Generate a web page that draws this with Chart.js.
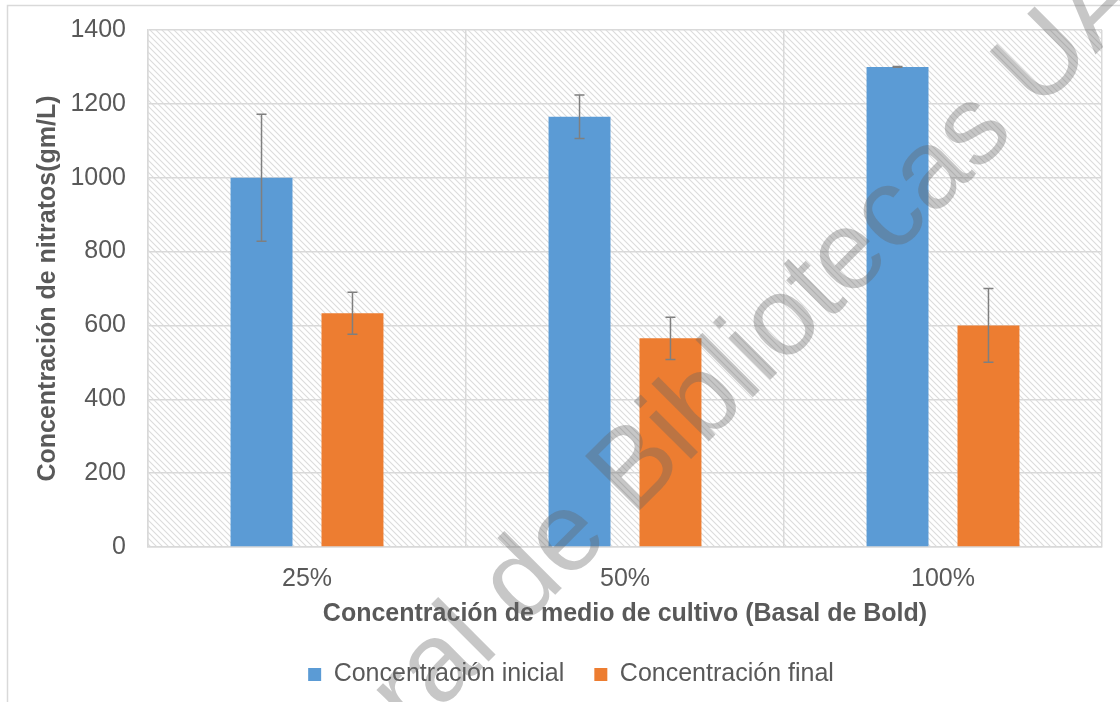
<!DOCTYPE html>
<html>
<head>
<meta charset="utf-8">
<script src="https://cdn.jsdelivr.net/npm/chart.js@4.4.1/dist/chart.umd.min.js"></script>
<style>
  html, body { margin: 0; padding: 0; background: #fff; }
  #wrap { width: 1120px; height: 702px; }
</style>
</head>
<body>
<div id="wrap"><canvas id="myChart"></canvas></div>
<script>
const categorias = ['25%', '50%', '100%'];
const inicial = [1000, 1165, 1300];
const final = [633, 565, 600];
const errInicial = [172, 59, 1];
const errFinal = [57, 57, 100];

const gris = '#595959';
const lineaGrid = '#d9d9d9';

// fondo rayado del area de trazado
function crearRayado() {
  const c = document.createElement('canvas');
  c.width = 6; c.height = 6;
  const x = c.getContext('2d');
  x.fillStyle = '#fff';
  x.fillRect(0, 0, 6, 6);
  x.strokeStyle = '#dcdcdc';
  x.lineWidth = 1.1;
  x.beginPath();
  x.moveTo(-1, -1); x.lineTo(7, 7);
  x.moveTo(-1, 5); x.lineTo(1, 7);
  x.moveTo(5, -1); x.lineTo(7, 1);
  x.stroke();
  return c;
}

const fondo = {
  id: 'fondo',
  afterLayout(chart) {
    // la leyenda va un poco a la derecha, como en el original
    chart.legend.left += 20;
    chart.legend.right += 20;
  },
  beforeDraw(chart) {
    const {ctx, chartArea: a} = chart;
    ctx.save();
    ctx.fillStyle = ctx.createPattern(crearRayado(), 'repeat');
    ctx.fillRect(a.left, a.top, a.right - a.left, a.bottom - a.top);
    // borde exterior del grafico
    ctx.strokeStyle = lineaGrid;
    ctx.lineWidth = 1.5;
    ctx.strokeRect(7.5, 5.5, 1300, 900);
    ctx.restore();
  }
};

const barrasError = {
  id: 'barrasError',
  afterDatasetsDraw(chart) {
    const {ctx} = chart;
    const y = chart.scales.y;
    const errores = [errInicial, errFinal];
    ctx.save();
    ctx.strokeStyle = '#7f7f7f';
    ctx.lineWidth = 1.5;
    chart.data.datasets.forEach((ds, i) => {
      chart.getDatasetMeta(i).data.forEach((bar, j) => {
        const v = ds.data[j];
        const e = errores[i][j];
        const yt = y.getPixelForValue(v + e);
        const yb = y.getPixelForValue(v - e);
        ctx.beginPath();
        ctx.moveTo(bar.x, yt); ctx.lineTo(bar.x, yb);
        ctx.moveTo(bar.x - 5, yt); ctx.lineTo(bar.x + 5, yt);
        ctx.moveTo(bar.x - 5, yb); ctx.lineTo(bar.x + 5, yb);
        ctx.stroke();
      });
    });
    ctx.restore();
  }
};

const marcaAgua = {
  id: 'marcaAgua',
  afterDraw(chart) {
    const {ctx} = chart;
    const texto = 'Dirección General de Bibliotecas UAQ';
    ctx.save();
    ctx.font = '112px "Liberation Sans", Arial, sans-serif';
    const antes = ctx.measureText('Dirección General d').width;
    const mitadE = ctx.measureText('e').width / 2;
    ctx.translate(589, 561);
    ctx.rotate(-Math.PI / 4);
    ctx.fillStyle = 'rgba(100,100,100,0.36)';
    ctx.textBaseline = 'alphabetic';
    ctx.fillText(texto, -(antes + mitadE), 0);
    ctx.restore();
  }
};

const ctx = document.getElementById('myChart');
new Chart(ctx, {
  type: 'bar',
  data: {
    labels: categorias,
    datasets: [{
      label: 'Concentración inicial',
      data: inicial,
      backgroundColor: '#5b9bd5',
      borderWidth: 0
    }, {
      label: 'Concentración final',
      data: final,
      backgroundColor: '#ed7d31',
      borderWidth: 0
    }]
  },
  options: {
    responsive: true,
    maintainAspectRatio: false,
    animation: false,
    categoryPercentage: 0.572,
    barPercentage: 0.681,
    layout: { padding: { left: 0, right: 18, top: 30, bottom: 5 } },
    scales: {
      x: {
        grid: { color: lineaGrid, lineWidth: 1.5, drawTicks: false, offset: true },
        border: { color: lineaGrid, width: 1.5 },
        ticks: { color: gris, padding: 17, font: { family: 'Liberation Sans', size: 25 } },
        title: {
          display: true,
          text: 'Concentración de medio de cultivo (Basal de Bold)',
          color: gris,
          font: { family: 'Liberation Sans', size: 25, weight: 'bold' },
          padding: { top: 0, bottom: 3 }
        },
        afterFit: (s) => { s.height = 85; }
      },
      y: {
        min: 0,
        max: 1400,
        ticks: {
          stepSize: 200,
          color: gris,
          padding: 22,
          font: { family: 'Liberation Sans', size: 25 },
          callback: (v) => String(v)
        },
        grid: { color: lineaGrid, lineWidth: 1.5, drawTicks: false },
        border: { color: lineaGrid, width: 1.5 },
        title: {
          display: true,
          text: 'Concentración de nitratos(gm/L)',
          color: gris,
          font: { family: 'Liberation Sans', size: 25, weight: 'bold' },
          padding: { top: 33, bottom: 0 }
        },
        afterFit: (s) => { s.width = 148; s.paddingTop = 0; s.paddingBottom = 0; }
      }
    },
    plugins: {
      legend: {
        position: 'bottom',
        labels: {
          color: gris,
          boxWidth: 13,
          boxHeight: 13,
          padding: 30,
          font: { family: 'Liberation Sans', size: 25 }
        }
      },
      tooltip: { enabled: false }
    }
  },
  plugins: [fondo, barrasError, marcaAgua]
});
</script>
</body>
</html>
